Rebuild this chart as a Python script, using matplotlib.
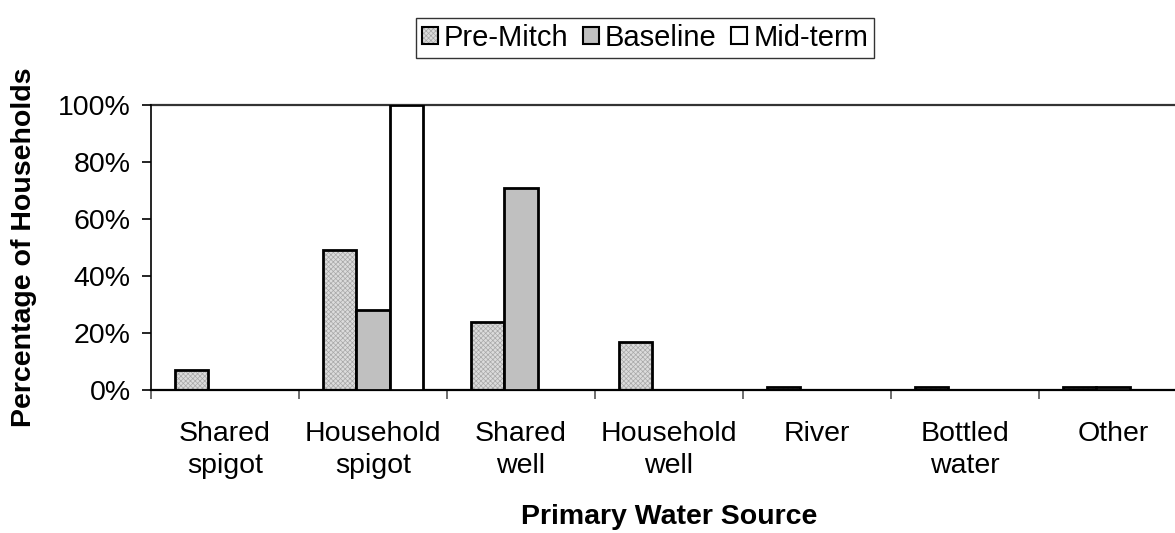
import matplotlib
matplotlib.use("Agg")
import matplotlib.pyplot as plt
import numpy as np
from matplotlib.patches import Patch

categories = ["Shared\nspigot", "Household\nspigot", "Shared\nwell", "Household\nwell",
              "River", "Bottled\nwater", "Other"]
series_names = ["Pre-Mitch", "Baseline", "Mid-term"]
pre_mitch = [7, 49, 24, 17, 1, 1, 1]
baseline = [0, 28, 71, 0, 0, 0, 1]
mid_term = [0, 100, 0, 0, 0, 0, 0]
y_ticks = [0, 20, 40, 60, 80, 100]
y_tick_labels = ["0%", "20%", "40%", "60%", "80%", "100%"]

plt.rcParams['font.family'] = ['Liberation Sans', 'DejaVu Sans']
plt.rcParams['hatch.linewidth'] = 0.5

W, H = 1175, 533
fig = plt.figure(figsize=(W / 100, H / 100), dpi=100)
left, right, bottom, top = 151, 1187, 390, 105
ax = fig.add_axes([left / W, 1 - bottom / H, (right - left) / W, (bottom - top) / H])

x = np.arange(len(categories))
bw = 0.223
pre_fc, pre_hatch, pre_hc = "#dcdcdc", "xxxxxxx", "#a8a8a8"
base_fc = "#c0c0c0"
mid_fc = "white"
data = [pre_mitch, baseline, mid_term]

for i, vals in enumerate(data):
    pos = x + (i - 1) * bw
    v = np.array(vals, dtype=float)
    mask = v > 0
    if i == 0:
        ax.bar(pos[mask], v[mask], width=bw, facecolor=pre_fc,
               hatch=pre_hatch, edgecolor=pre_hc, linewidth=0, zorder=2)
        ax.bar(pos[mask], v[mask], width=bw, facecolor="none",
               edgecolor="black", linewidth=2.0, zorder=3)
    else:
        ax.bar(pos[mask], v[mask], width=bw, facecolor=[base_fc, mid_fc][i - 1],
               edgecolor="black", linewidth=2.0, zorder=3)

ax.set_xlim(-0.5, len(categories) - 0.5)
ax.set_ylim(0, 100)
ax.axhline(100, color="#333333", lw=1.6, clip_on=False, zorder=1)

for s in ["top", "right"]:
    ax.spines[s].set_visible(False)
ax.spines["left"].set_linewidth(1.2)
ax.spines["bottom"].set_linewidth(1.6)

ax.set_yticks(y_ticks)
ax.set_yticklabels(y_tick_labels, fontsize=20.5)
ax.tick_params(axis="y", direction="out", length=6.5, width=1.2, pad=8)

ax.set_xticks(np.arange(len(categories) + 1) - 0.5)
ax.set_xticklabels([])
ax.tick_params(axis="x", which="major", direction="out", length=6.5, width=1.2, color="#555555")
ax.set_xticks(x, minor=True)
ax.set_xticklabels(categories, minor=True, fontsize=20.5, linespacing=1.3)
ax.tick_params(axis="x", which="minor", length=0, pad=22)

ax.set_xlabel("Primary Water Source", fontsize=20.5, fontweight="bold", va="center")
ax.xaxis.set_label_coords(0.5, -(517 - bottom) / (bottom - top))
ax.set_ylabel("Percentage of Households", fontsize=20.5, fontweight="bold", va="center")
ax.yaxis.set_label_coords(-(left - 24) / (right - left), 0.5)

h_pre = (Patch(facecolor=pre_fc, hatch=pre_hatch, edgecolor=pre_hc, linewidth=0),
         Patch(facecolor="none", edgecolor="black", linewidth=1.5))
h_base = Patch(facecolor=base_fc, edgecolor="black", linewidth=1.5)
h_mid = Patch(facecolor=mid_fc, edgecolor="black", linewidth=1.5)
leg = fig.legend([h_pre, h_base, h_mid], series_names, loc="center",
                 bbox_to_anchor=(645 / W, 1 - 38 / H),
                 ncol=3, fontsize=21, frameon=True, fancybox=False, edgecolor="black",
                 handlelength=0.55, handleheight=0.55, handletextpad=0.2, columnspacing=0.5,
                 borderpad=0.2, borderaxespad=0)
leg.get_frame().set_linewidth(1.0)

fig.savefig("out.png", dpi=100)
